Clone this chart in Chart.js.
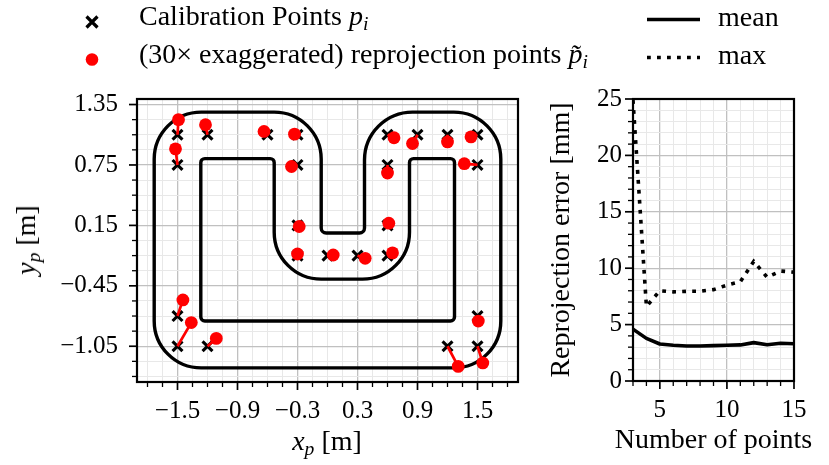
<!DOCTYPE html>
<html>
<head>
<meta charset="utf-8">
<script src="https://cdn.jsdelivr.net/npm/chart.js@4.4.1/dist/chart.umd.min.js"></script>
<style>
  body { margin: 0; background: #fff; }
  #wrap { position: relative; width: 829px; height: 465px; overflow: hidden; font-family: "Liberation Serif", serif; }
  #cvLeft { position: absolute; left: 0; top: 0; }
  #cvRight { position: absolute; left: 540px; top: 0; }
  .txt { position: absolute; font-size: 28px; line-height: 30px; white-space: nowrap; color: #000; }
  .txt sub { font-size: 0.7em; vertical-align: -0.26em; line-height: 0; }
  #legendMarks { position: absolute; left: 0; top: 0; }
</style>
</head>
<body>
<div id="wrap">
  <canvas id="cvLeft" width="540" height="465"></canvas>
  <canvas id="cvRight" width="289" height="465"></canvas>

  <svg id="legendMarks" width="829" height="90">
    <path d="M86.5,16.5 L97.5,27.5 M97.5,16.5 L86.5,27.5" stroke="#000" stroke-width="3.2"/>
    <circle cx="92" cy="59.5" r="6.3" fill="#ff0000"/>
    <line x1="647" y1="19.5" x2="700" y2="19.5" stroke="#000" stroke-width="3.6"/>
    <line x1="647" y1="57.5" x2="700" y2="57.5" stroke="#000" stroke-width="3.6" stroke-dasharray="3.8 6.2"/>
  </svg>
  <div class="txt" style="left:139px;top:0.6px">Calibration Points <i>p</i><sub><i>i</i></sub></div>
  <div class="txt" style="left:139px;top:38.6px">(30× exaggerated) reprojection points <i>p̃</i><sub><i>i</i></sub></div>
  <div class="txt" style="left:718px;top:2.4px">mean</div>
  <div class="txt" style="left:718px;top:39.6px">max</div>

  <div class="txt" style="left:327px;top:425.6px;transform:translateX(-50%)"><i>x</i><sub><i>p</i></sub> [m]</div>
  <div class="txt" style="left:26px;top:240px;transform:translate(-50%,-50%) rotate(-90deg)"><i>y</i><sub><i>p</i></sub> [m]</div>
  <div class="txt" style="left:713.5px;top:423.6px;transform:translateX(-50%)">Number of points</div>
</div>

<script>
// calibration points (m)
const calibX = [-1.5, -1.2, -1.5, -0.6, -0.3, -0.3, 0.6, 0.9, 1.2, 1.5, 1.5, 0.6,
                -0.3, 0.6, -0.3, 0.0, 0.3, 0.6, -1.5, -1.5, -1.2, 1.2, 1.5, 1.5];
const calibY = [1.05, 1.05, 0.75, 1.05, 1.05, 0.75, 1.05, 1.05, 1.05, 1.05, 0.75, 0.75,
                0.15, 0.15, -0.15, -0.15, -0.15, -0.15, -0.75, -1.05, -1.05, -1.05, -1.05, -0.75];
// reprojected points (30x exaggerated)
const reprojX = [-1.49, -1.22, -1.52, -0.635, -0.33, -0.36, 0.665, 0.85, 1.2, 1.435, 1.368, 0.6,
                 -0.283, 0.613, -0.3, 0.057, 0.377, 0.65, -1.446, -1.362, -1.112, 1.307, 1.553, 1.508];
const reprojY = [1.2, 1.15, 0.91, 1.083, 1.056, 0.735, 1.02, 0.963, 0.979, 1.029, 0.763, 0.67,
                 0.139, 0.172, -0.134, -0.144, -0.177, -0.123, -0.59, -0.815, -0.972, -1.25, -1.216, -0.8];

// track outline corners (m) with corner radius (m)
const trackOuterX = [-1.733, -0.063, -0.063, 0.37, 0.37, 1.733, 1.733, -1.733];
const trackOuterY = [1.275, 1.275, 0.074, 0.074, 1.275, 1.275, -1.265, -1.265];
const trackOuterR = [0.47, 0.47, 0.05, 0.05, 0.48, 0.47, 0.47, 0.47];
const trackInnerX = [-1.267, -0.533, -0.533, 0.82, 0.82, 1.27, 1.27, -1.267];
const trackInnerY = [0.813, 0.813, -0.384, -0.384, 0.813, 0.813, -0.8, -0.8];
const trackInnerR = [0.04, 0.04, 0.47, 0.47, 0.04, 0.04, 0.04, 0.04];

// left axes ticks
const xMajorTicks = [-1.5, -0.9, -0.3, 0.3, 0.9, 1.5];
const xMajorLabels = ['−1.5', '−0.9', '−0.3', '0.3', '0.9', '1.5'];
const xMinorTicks = [-1.8, -1.65, -1.35, -1.2, -1.05, -0.75, -0.6, -0.45, -0.15, 0, 0.15,
                     0.45, 0.6, 0.75, 1.05, 1.2, 1.35, 1.65, 1.8];
const yMajorTicks = [1.35, 0.75, 0.15, -0.45, -1.05];
const yMajorLabels = ['1.35', '0.75', '0.15', '−0.45', '−1.05'];
const yMinorTicks = [1.2, 1.05, 0.9, 0.6, 0.45, 0.3, 0, -0.15, -0.3, -0.6, -0.75, -0.9, -1.2, -1.35];

// right chart data
const nPoints = [3, 4, 5, 6, 7, 8, 9, 10, 11, 12, 13, 14, 15];
const meanErr = [4.6, 3.78, 3.28, 3.17, 3.1, 3.1, 3.14, 3.17, 3.2, 3.4, 3.22, 3.34, 3.3];
const maxErr = [24.9, 6.6, 8.0, 7.9, 7.95, 7.95, 8.1, 8.5, 8.8, 10.6, 9.2, 9.75, 9.65];
const rxTicks = [3, 4, 5, 6, 7, 8, 9, 10, 11, 12, 13, 14, 15];
const rxMajor = [5, 10, 15];
const ryTicks = [0, 1, 2, 3, 4, 5, 6, 7, 8, 9, 10, 11, 12, 13, 14, 15, 16, 17, 18, 19, 20, 21, 22, 23, 24, 25];
const ryMajor = [0, 5, 10, 15, 20, 25];

Chart.defaults.font.family = '"Liberation Serif", serif';
Chart.defaults.font.size = 25;
Chart.defaults.color = '#000';

const GRID_MAJOR = '#c0c0c0';
const GRID_MINOR = '#e8e8e8';

// frame + matplotlib style tick marks (left and bottom only)
const axisDecor = {
  id: 'axisDecor',
  afterDatasetsDraw(chart, args, opts) {
    const { ctx, chartArea: a } = chart;
    const xs = chart.scales.x, ys = chart.scales.y;
    ctx.save();
    ctx.strokeStyle = '#000';
    xs.ticks.forEach(t => {
      const px = xs.getPixelForValue(t.value);
      const major = opts.xMajor.includes(t.value);
      ctx.lineWidth = major ? 1.7 : 1.3;
      ctx.beginPath();
      ctx.moveTo(px, a.bottom);
      ctx.lineTo(px, a.bottom + (major ? 8 : 5));
      ctx.stroke();
    });
    ys.ticks.forEach(t => {
      const py = ys.getPixelForValue(t.value);
      const major = opts.yMajor.includes(t.value);
      ctx.lineWidth = major ? 1.7 : 1.3;
      ctx.beginPath();
      ctx.moveTo(a.left, py);
      ctx.lineTo(a.left - (major ? 8 : 5), py);
      ctx.stroke();
    });
    ctx.lineWidth = 2.2;
    ctx.strokeRect(a.left, a.top, a.right - a.left, a.bottom - a.top);
    ctx.restore();
  }
};

function roundedPath(ctx, xs, ys, px, py, pr) {
  const k = Math.abs(xs.getPixelForValue(1) - xs.getPixelForValue(0));
  const P = px.map((v, i) => [xs.getPixelForValue(v), ys.getPixelForValue(py[i]), pr[i] * k]);
  const n = P.length;
  ctx.beginPath();
  ctx.moveTo((P[n - 1][0] + P[0][0]) / 2, (P[n - 1][1] + P[0][1]) / 2);
  for (let i = 0; i < n; i++) {
    const nx = P[(i + 1) % n];
    ctx.arcTo(P[i][0], P[i][1], nx[0], nx[1], P[i][2]);
  }
  ctx.closePath();
  ctx.stroke();
}

const trackPlugin = {
  id: 'track',
  beforeDatasetsDraw(chart) {
    const { ctx, chartArea: a } = chart;
    const xs = chart.scales.x, ys = chart.scales.y;
    ctx.save();
    ctx.beginPath();
    ctx.rect(a.left, a.top, a.right - a.left, a.bottom - a.top);
    ctx.clip();
    ctx.strokeStyle = '#000';
    ctx.lineWidth = 3.4;
    ctx.lineJoin = 'round';
    roundedPath(ctx, xs, ys, trackOuterX, trackOuterY, trackOuterR);
    roundedPath(ctx, xs, ys, trackInnerX, trackInnerY, trackInnerR);
    ctx.restore();
  }
};

function tickList(values) {
  return values.slice().sort((a, b) => a - b).map(v => ({ value: v }));
}

const calibPts = calibX.map((x, i) => ({ x: x, y: calibY[i] }));
const reprojPts = reprojX.map((x, i) => ({ x: x, y: reprojY[i] }));
const segPts = [];
calibPts.forEach((p, i) => {
  segPts.push(p, reprojPts[i], { x: null, y: null });
});

new Chart(document.getElementById('cvLeft'), {
  type: 'scatter',
  data: {
    datasets: [
      {
        label: '(30× exaggerated) reprojection points',
        data: reprojPts,
        pointStyle: 'circle',
        pointRadius: 6.4,
        backgroundColor: '#ff0000',
        borderWidth: 0,
        order: 0
      },
      {
        label: 'offset',
        data: segPts,
        showLine: true,
        spanGaps: false,
        pointRadius: 0,
        borderColor: '#ff0000',
        borderWidth: 2.7,
        order: 1
      },
      {
        label: 'Calibration Points',
        data: calibPts,
        pointStyle: 'crossRot',
        pointRadius: 7,
        borderColor: '#000',
        borderWidth: 3.1,
        order: 2
      }
    ]
  },
  options: {
    responsive: false,
    animation: false,
    events: [],
    layout: { padding: { left: 0, top: 99, right: 22, bottom: 0 } },
    plugins: {
      legend: { display: false },
      tooltip: { enabled: false },
      axisDecor: { xMajor: xMajorTicks, yMajor: yMajorTicks }
    },
    scales: {
      x: {
        type: 'linear',
        min: -1.905,
        max: 1.905,
        afterBuildTicks: s => { s.ticks = tickList(xMajorTicks.concat(xMinorTicks)); },
        afterFit: s => { s.height = 83; },
        ticks: {
          autoSkip: false,
          maxRotation: 0,
          padding: 14,
          callback: v => { const i = xMajorTicks.indexOf(v); return i >= 0 ? xMajorLabels[i] : ''; }
        },
        grid: {
          drawTicks: false,
          color: c => (c.tick && xMajorTicks.includes(c.tick.value)) ? GRID_MAJOR : GRID_MINOR,
          lineWidth: c => (c.tick && xMajorTicks.includes(c.tick.value)) ? 1.3 : 1
        },
        border: { display: false }
      },
      y: {
        type: 'linear',
        min: -1.405,
        max: 1.405,
        afterBuildTicks: s => { s.ticks = tickList(yMajorTicks.concat(yMinorTicks)); },
        afterFit: s => { s.width = 137; },
        ticks: {
          autoSkip: false,
          padding: 19,
          callback: v => { const i = yMajorTicks.indexOf(v); return i >= 0 ? yMajorLabels[i] : ''; }
        },
        grid: {
          drawTicks: false,
          color: c => (c.tick && yMajorTicks.includes(c.tick.value)) ? GRID_MAJOR : GRID_MINOR,
          lineWidth: c => (c.tick && yMajorTicks.includes(c.tick.value)) ? 1.3 : 1
        },
        border: { display: false }
      }
    }
  },
  plugins: [trackPlugin, axisDecor]
});

new Chart(document.getElementById('cvRight'), {
  type: 'line',
  data: {
    datasets: [
      {
        label: 'mean',
        data: nPoints.map((n, i) => ({ x: n, y: meanErr[i] })),
        borderColor: '#000',
        borderWidth: 3.6,
        pointRadius: 0,
        tension: 0,
        borderJoinStyle: 'round'
      },
      {
        label: 'max',
        data: nPoints.map((n, i) => ({ x: n, y: maxErr[i] })),
        borderColor: '#000',
        borderWidth: 3.6,
        borderDash: [3.8, 6.2],
        pointRadius: 0,
        tension: 0
      }
    ]
  },
  options: {
    responsive: false,
    animation: false,
    events: [],
    layout: { padding: { left: 0, top: 99, right: 35, bottom: 0 } },
    plugins: {
      legend: { display: false },
      tooltip: { enabled: false },
      axisDecor: { xMajor: rxMajor, yMajor: ryMajor }
    },
    scales: {
      x: {
        type: 'linear',
        min: 3,
        max: 15,
        afterBuildTicks: s => { s.ticks = tickList(rxTicks); },
        afterFit: s => { s.height = 84; },
        ticks: {
          autoSkip: false,
          maxRotation: 0,
          padding: 14,
          callback: v => rxMajor.includes(v) ? String(v) : ''
        },
        grid: {
          drawTicks: false,
          color: c => (c.tick && rxMajor.includes(c.tick.value)) ? GRID_MAJOR : GRID_MINOR,
          lineWidth: c => (c.tick && rxMajor.includes(c.tick.value)) ? 1.3 : 1
        },
        border: { display: false }
      },
      y: {
        type: 'linear',
        min: 0,
        max: 25,
        afterBuildTicks: s => { s.ticks = tickList(ryTicks); },
        afterFit: s => { s.width = 93; },
        title: { display: true, text: 'Reprojection error [mm]', font: { size: 28 }, padding: { top: 5, bottom: 0 } },
        ticks: {
          autoSkip: false,
          padding: 11,
          callback: v => ryMajor.includes(v) ? String(v) : ''
        },
        grid: {
          drawTicks: false,
          color: c => (c.tick && ryMajor.includes(c.tick.value)) ? GRID_MAJOR : GRID_MINOR,
          lineWidth: c => (c.tick && ryMajor.includes(c.tick.value)) ? 1.3 : 1
        },
        border: { display: false }
      }
    }
  },
  plugins: [axisDecor]
});
</script>
</body>
</html>
